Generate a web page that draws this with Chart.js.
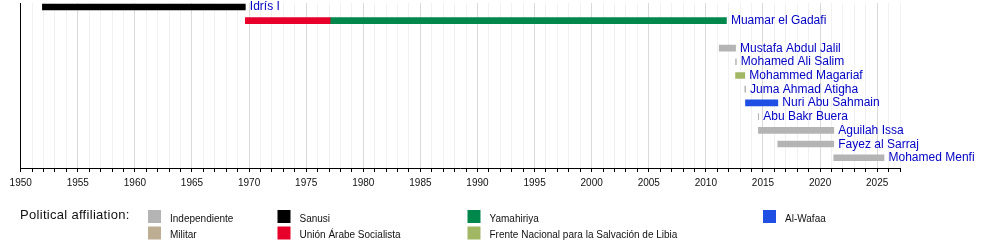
<!DOCTYPE html>
<html>
<head>
<meta charset="utf-8">
<script src="https://cdn.jsdelivr.net/npm/chart.js@4/dist/chart.umd.min.js"></script>
<style>
html,body{margin:0;padding:0;background:#fff;}
#c{display:block;}
</style>
</head>
<body>
<canvas id="c" width="1000" height="248"></canvas>
<script>
// Row labels (one per timeline row; empty row between Gadafi and the post-2011 leaders)
const leaders = ['Idrís I','Muamar el Gadafi','','Mustafa Abdul Jalil','Mohamed Ali Salim','Mohammed Magariaf','Juma Ahmad Atigha','Nuri Abu Sahmain','Abu Bakr Buera','Aguilah Issa','Fayez al Sarraj','Mohamed Menfi'];

// Periods in office
const periodRow   = [0, 1, 1, 3, 4, 5, 6, 7, 8, 9, 10, 11];
const periodStart = [1951.9, 1969.67, 1977.15, 2011.17, 2012.6, 2012.6, 2013.41, 2013.47, 2014.59, 2014.6, 2016.3, 2021.2];
const periodEnd   = [1969.67, 1977.15, 2011.8, 2012.6, 2012.67, 2013.41, 2013.48, 2016.3, 2014.63, 2021.2, 2021.2, 2025.6];
const periodParty = ['Sanusi','Unión Árabe Socialista','Yamahiriya','Independiente','Independiente','Frente Nacional para la Salvación de Libia','Independiente','Al-Wafaa','Independiente','Independiente','Independiente','Independiente'];

// Parties (legend) and colours
const parties = ['Independiente','Militar','Sanusi','Unión Árabe Socialista','Yamahiriya','Frente Nacional para la Salvación de Libia','Al-Wafaa'];
const partyColors = ['#b4b4b4','#bdae93','#000000','#e6002a','#00874b','#a2b764','#1f4fe3'];

// Axis
const yearMin = 1950, yearMax = 2027;
const legendTitle = 'Political affiliation:';

const colorOf = p => partyColors[parties.indexOf(p)];
const barData = periodRow.map((r, i) => ({ y: r, x: [periodStart[i], periodEnd[i]] }));

const FONT = "'Liberation Sans', Arial, Helvetica, sans-serif";

const labelPlugin = {
  id: 'leaderLabels',
  afterDatasetsDraw(chart) {
    const ctx = chart.ctx, xs = chart.scales.x, ys = chart.scales.y;
    ctx.save();
    ctx.font = '12px ' + FONT;
    ctx.fillStyle = '#0000c4';
    ctx.textBaseline = 'alphabetic';
    ctx.textAlign = 'left';
    leaders.forEach((name, row) => {
      if (!name) return;
      let end = -Infinity;
      periodRow.forEach((r, i) => { if (r === row) end = Math.max(end, periodEnd[i]); });
      const x = xs.getPixelForValue(end) + 4.5;
      const y = ys.getPixelForValue(row) + 3.5;
      ctx.fillText(name, x, y);
    });
    ctx.restore();
  }
};

const legendPlugin = {
  id: 'affiliationLegend',
  afterDraw(chart) {
    const ctx = chart.ctx;
    ctx.save();
    ctx.fillStyle = '#111';
    ctx.font = '13px ' + FONT;
    ctx.textBaseline = 'alphabetic';
    if ('letterSpacing' in ctx) ctx.letterSpacing = '0.3px';
    ctx.fillText(legendTitle, 20, 219);
    if ('letterSpacing' in ctx) ctx.letterSpacing = '0px';
    const colX = [148, 277.5, 467.5, 763];
    const rowY = [210, 226.5];
    ctx.font = '10px ' + FONT;
    parties.forEach((p, i) => {
      const col = Math.floor(i / 2), row = i % 2;
      const x = colX[col], y = rowY[row];
      ctx.fillStyle = partyColors[i];
      ctx.fillRect(x, y, 13, 13);
      ctx.fillStyle = '#111';
      ctx.fillText(p, x + 22, y + 11.5);
    });
    ctx.restore();
  }
};

new Chart(document.getElementById('c'), {
  type: 'bar',
  data: {
    datasets: [{
      data: barData,
      backgroundColor: periodParty.map(colorOf),
      borderWidth: 0,
      borderSkipped: false,
      barThickness: 6
    }]
  },
  options: {
    indexAxis: 'y',
    responsive: false,
    animation: false,
    events: [],
    layout: { padding: { left: 20.7, right: 100, top: 3, bottom: 0 } },
    plugins: { legend: { display: false }, tooltip: { enabled: false } },
    scales: {
      y: {
        type: 'linear',
        reverse: true,
        offset: false,
        min: -0.29,
        max: 11.75,
        grid: { offset: false },
        display: false
      },
      x: {
        type: 'linear',
        position: 'bottom',
        min: yearMin,
        max: yearMax,
        afterFit(scale) { scale.height = 80; },
        ticks: {
          stepSize: 1,
          autoSkip: false,
          maxRotation: 0,
          padding: 5,
          color: '#111',
          font: { family: FONT, size: 10 },
          callback: v => (v % 5 === 0 ? String(v) : '')
        },
        grid: {
          color: c => c.tick.value === yearMin ? '#000000' : (c.tick.value % 5 === 0 ? '#dadada' : '#f1f1f1'),
          lineWidth: 1,
          tickColor: '#000000',
          tickLength: 4,
          drawTicks: true
        },
        border: { display: true, color: '#000000', width: 1 }
      }
    }
  },
  plugins: [labelPlugin, legendPlugin]
});
</script>
</body>
</html>
